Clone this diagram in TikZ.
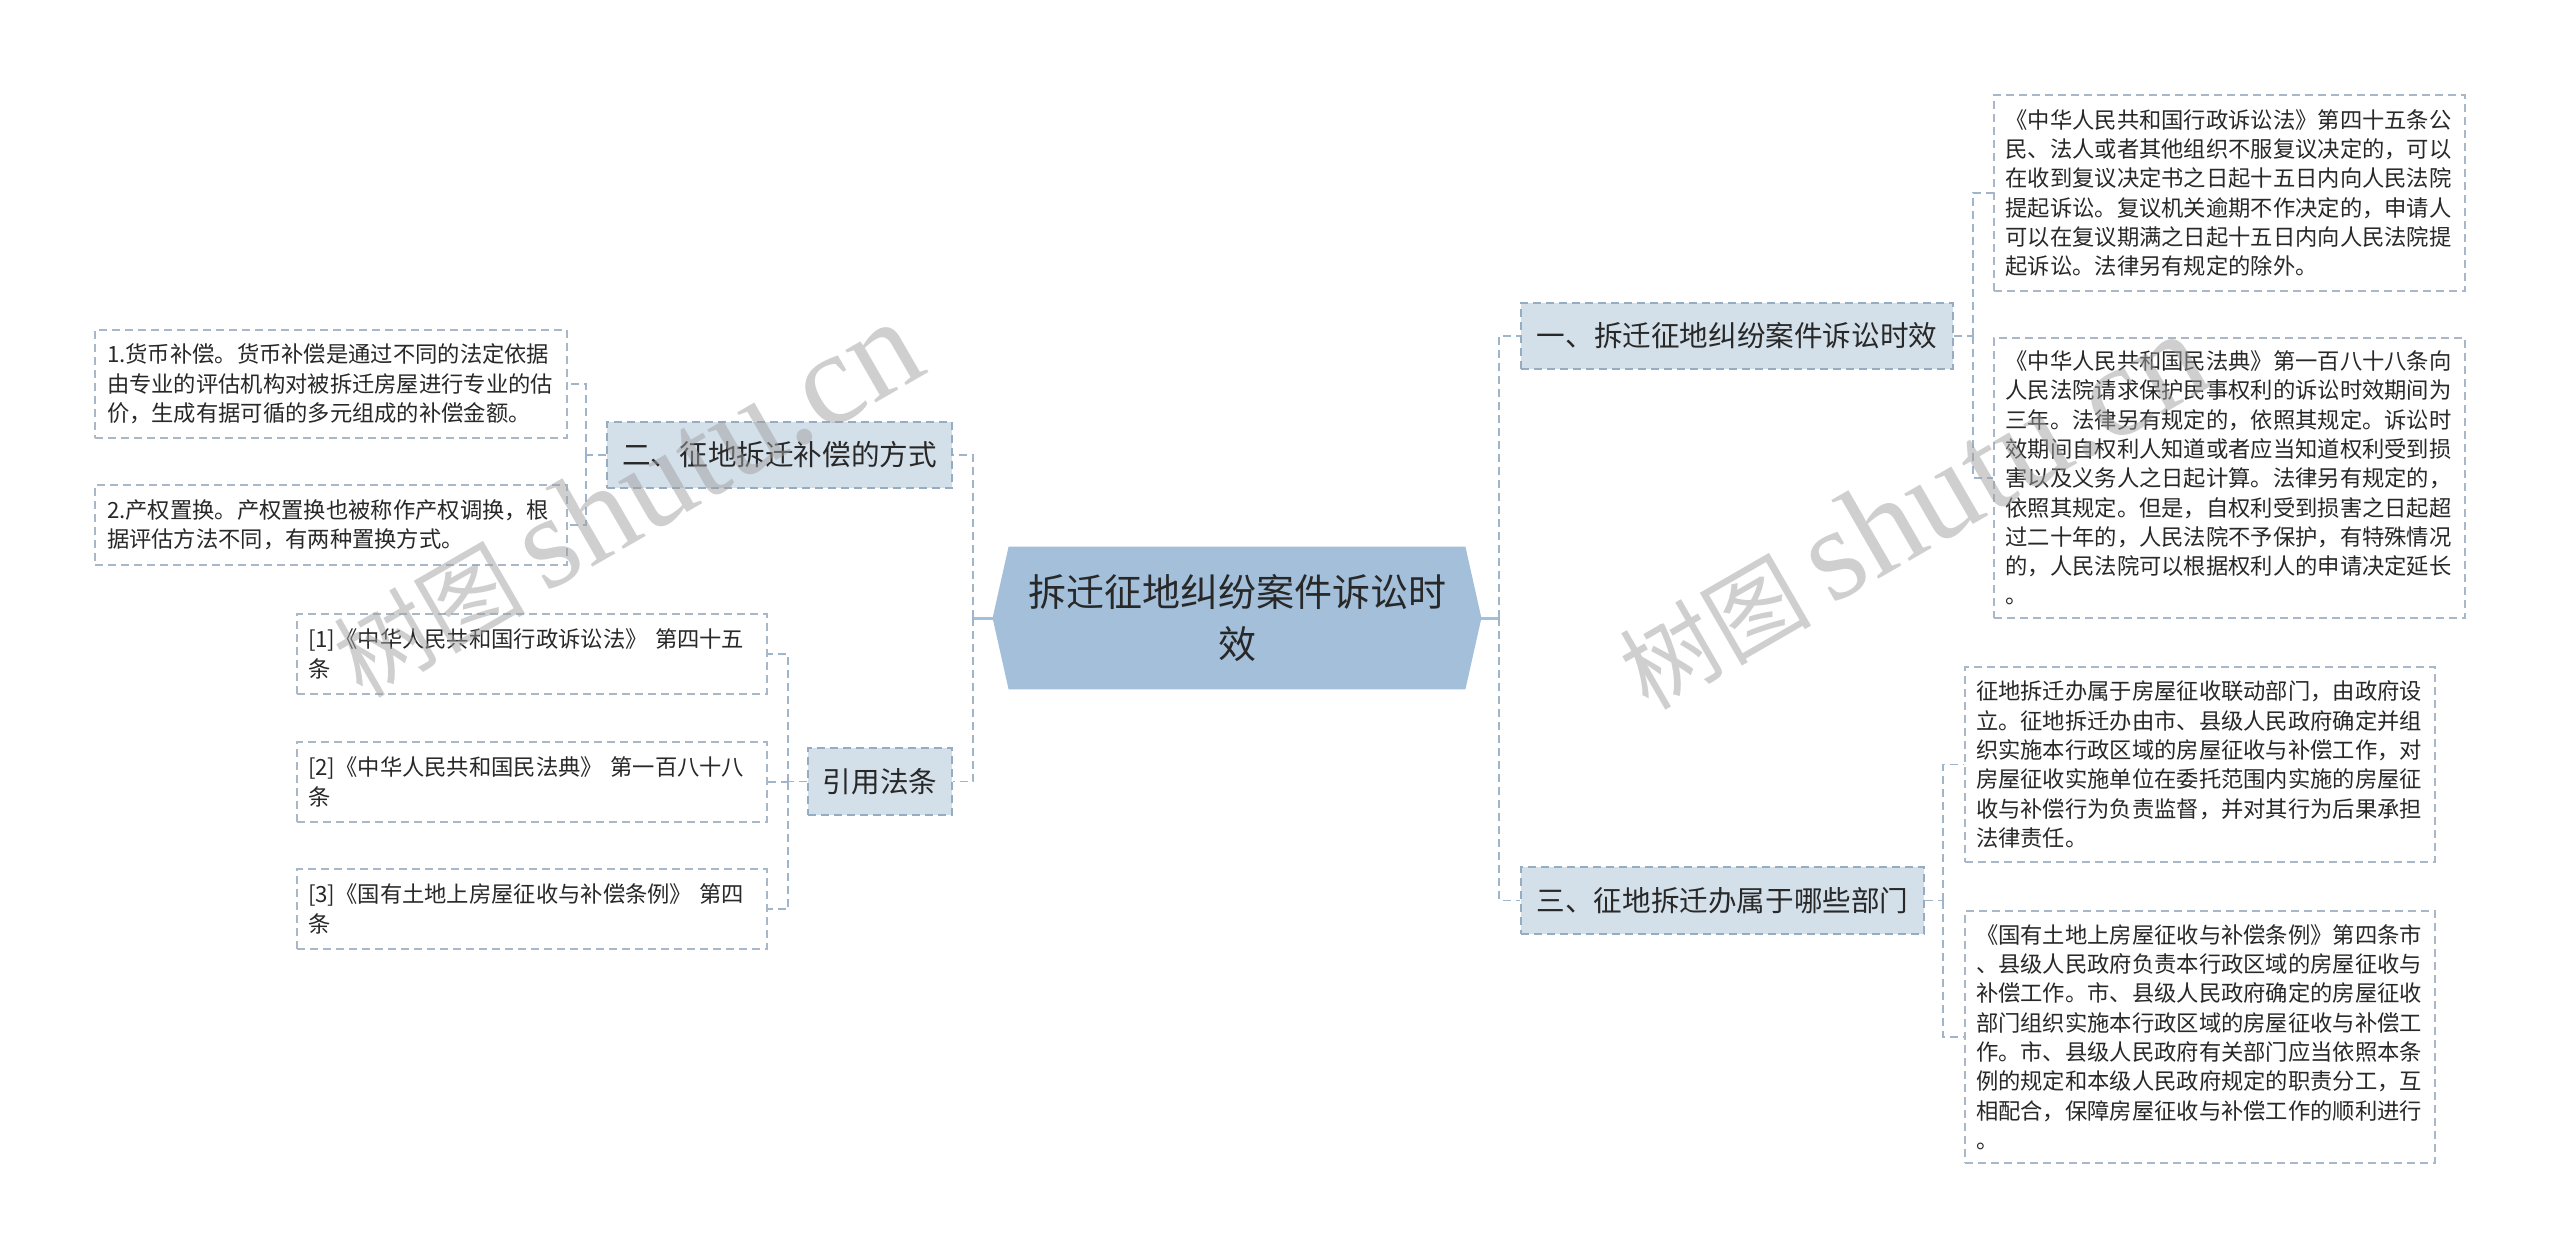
\documentclass[tikz,border=0pt]{standalone}
\usepackage{fontspec}
\setmainfont{Noto Sans CJK SC}
\newfontfamily\wmserif{Liberation Serif}
\usetikzlibrary{backgrounds}
\definecolor{rootc}{RGB}{163,191,218}
\definecolor{brfill}{RGB}{211,223,233}
\definecolor{brdraw}{RGB}{150,172,194}
\definecolor{leafdraw}{RGB}{168,184,200}
\definecolor{connc}{RGB}{160,181,202}
\definecolor{txt}{RGB}{40,40,40}
\definecolor{wmc}{RGB}{160,160,160}
\newcommand\leaffont{\fontsize{11.15pt}{14.65pt}\selectfont}
\newcommand\wmtext{{\fontsize{48pt}{48pt}\selectfont 树图}\hspace{10pt}{\wmserif\fontsize{66pt}{66pt}\selectfont shutu.cn}}
\begin{document}
\begin{tikzpicture}[x=0.5pt,y=-0.5pt,
  leafbox/.style={draw=leafdraw, dash pattern=on 4pt off 2.5pt, line width=0.75pt, fill=white,
    inner sep=0pt, text width=224pt, align=left, font=\leaffont, text=txt},
  branchbox/.style={draw=brdraw, dash pattern=on 4pt off 2.5pt, line width=0.75pt, fill=brfill,
    inner sep=0pt, font=\fontsize{14.3pt}{17pt}\selectfont, text=txt},
  conn/.style={draw=connc, dash pattern=on 4pt off 2.5pt, line width=0.9pt},
  solidconn/.style={draw=rootc, line width=1.5pt},
  wmark/.style={text=wmc, opacity=0.5, rotate=30, inner sep=0pt, anchor=base west}
]
\useasboundingbox (0,0) rectangle (2560,1259);

% root
\node[font=\fontsize{19pt}{26pt}\selectfont, align=center, text=txt, minimum width=244pt,
  minimum height=71pt, inner sep=0pt] (root) at (1237,618) {拆迁征地纠纷案件诉讼时\\效};
\begin{scope}[on background layer]
\fill[white] (0,0) rectangle (2560,1259);
\fill[rootc] (root.west) -- ([xshift=8pt]root.north west) -- ([xshift=-8pt]root.north east)
  -- (root.east) -- ([xshift=-8pt]root.south east) -- ([xshift=8pt]root.south west) -- cycle;
\end{scope}

% branches
\node[branchbox, minimum width=216pt, minimum height=33pt] (b1) at (1737,336) {一、拆迁征地纠纷案件诉讼时效};
\node[branchbox, minimum width=201.5pt, minimum height=33.5pt] (b3) at (1722.5,900.5) {三、征地拆迁办属于哪些部门};
\node[branchbox, minimum width=172.5pt, minimum height=33pt] (b2) at (779.5,455) {二、征地拆迁补偿的方式};
\node[branchbox, minimum width=72pt, minimum height=33.5pt] (b4) at (880,781.5) {引用法条};

% leaves right
\node[leafbox, minimum width=235.5pt, minimum height=98pt] (l1a) at (2229.5,193) {《中华人民共和国行政诉讼法》第四十五条公\\民、法人或者其他组织不服复议决定的，可以\\在收到复议决定书之日起十五日内向人民法院\\提起诉讼。复议机关逾期不作决定的，申请人\\可以在复议期满之日起十五日内向人民法院提\\起诉讼。法律另有规定的除外。};
\node[leafbox, minimum width=235.5pt, minimum height=140pt] (l1b) at (2229.5,478) {《中华人民共和国民法典》第一百八十八条向\\人民法院请求保护民事权利的诉讼时效期间为\\三年。法律另有规定的，依照其规定。诉讼时\\效期间自权利人知道或者应当知道权利受到损\\害以及义务人之日起计算。法律另有规定的，\\依照其规定。但是，自权利受到损害之日起超\\过二十年的，人民法院不予保护，有特殊情况\\的，人民法院可以根据权利人的申请决定延长\\。};
\node[leafbox, minimum width=235pt, minimum height=97.5pt] (l3a) at (2200,764.5) {征地拆迁办属于房屋征收联动部门，由政府设\\立。征地拆迁办由市、县级人民政府确定并组\\织实施本行政区域的房屋征收与补偿工作，对\\房屋征收实施单位在委托范围内实施的房屋征\\收与补偿行为负责监督，并对其行为后果承担\\法律责任。};
\node[leafbox, minimum width=235pt, minimum height=126pt] (l3b) at (2200,1037) {《国有土地上房屋征收与补偿条例》第四条市\\、县级人民政府负责本行政区域的房屋征收与\\补偿工作。市、县级人民政府确定的房屋征收\\部门组织实施本行政区域的房屋征收与补偿工\\作。市、县级人民政府有关部门应当依照本条\\例的规定和本级人民政府规定的职责分工，互\\相配合，保障房屋征收与补偿工作的顺利进行\\。};

% leaves left
\node[leafbox, minimum width=236pt, minimum height=54pt] (l2a) at (331,384) {1.货币补偿。货币补偿是通过不同的法定依据\\由专业的评估机构对被拆迁房屋进行专业的估\\价，生成有据可循的多元组成的补偿金额。};
\node[leafbox, minimum width=236pt, minimum height=40pt] (l2b) at (331,525) {2.产权置换。产权置换也被称作产权调换，根\\据评估方法不同，有两种置换方式。};
\node[leafbox, minimum width=235pt, minimum height=40pt] (r1) at (532,654) {[1]《中华人民共和国行政诉讼法》 第四十五\\条};
\node[leafbox, minimum width=235pt, minimum height=40pt] (r2) at (532,782) {[2]《中华人民共和国民法典》 第一百八十八\\条};
\node[leafbox, minimum width=235pt, minimum height=40pt] (r3) at (532,909) {[3]《国有土地上房屋征收与补偿条例》 第四\\条};

% junctions
\coordinate (rj) at (1499,618);
\coordinate (lj) at (973,618);
\coordinate (j1) at (1973,336);
\coordinate (j3) at (1943,900.5);
\coordinate (j2) at (586,455);
\coordinate (j4) at (788,781.5);

% connectors
\draw[solidconn] (root.east) -- (rj);
\draw[solidconn] (root.west) -- (lj);
\draw[conn] (rj) |- (b1.west);
\draw[conn] (rj) |- (b3.west);
\draw[conn] (lj) |- (b2.east);
\draw[conn] (lj) |- (b4.east);
\draw[conn] (b1.east) -- (j1);
\draw[conn] (j1) |- (l1a.west);
\draw[conn] (j1) |- (l1b.west);
\draw[conn] (b3.east) -- (j3);
\draw[conn] (j3) |- (l3a.west);
\draw[conn] (j3) |- (l3b.west);
\draw[conn] (b2.west) -- (j2);
\draw[conn] (j2) |- (l2a.east);
\draw[conn] (j2) |- (l2b.east);
\draw[conn] (b4.west) -- (j4);
\draw[conn] (j4) |- (r1.east);
\draw[conn] (j4) |- (r2.east);
\draw[conn] (j4) |- (r3.east);

% watermarks
\node[wmark] (wm1) at (362,700) {\wmtext};
\node[wmark] (wm2) at (1648,712) {\wmtext};
\end{tikzpicture}
\end{document}
